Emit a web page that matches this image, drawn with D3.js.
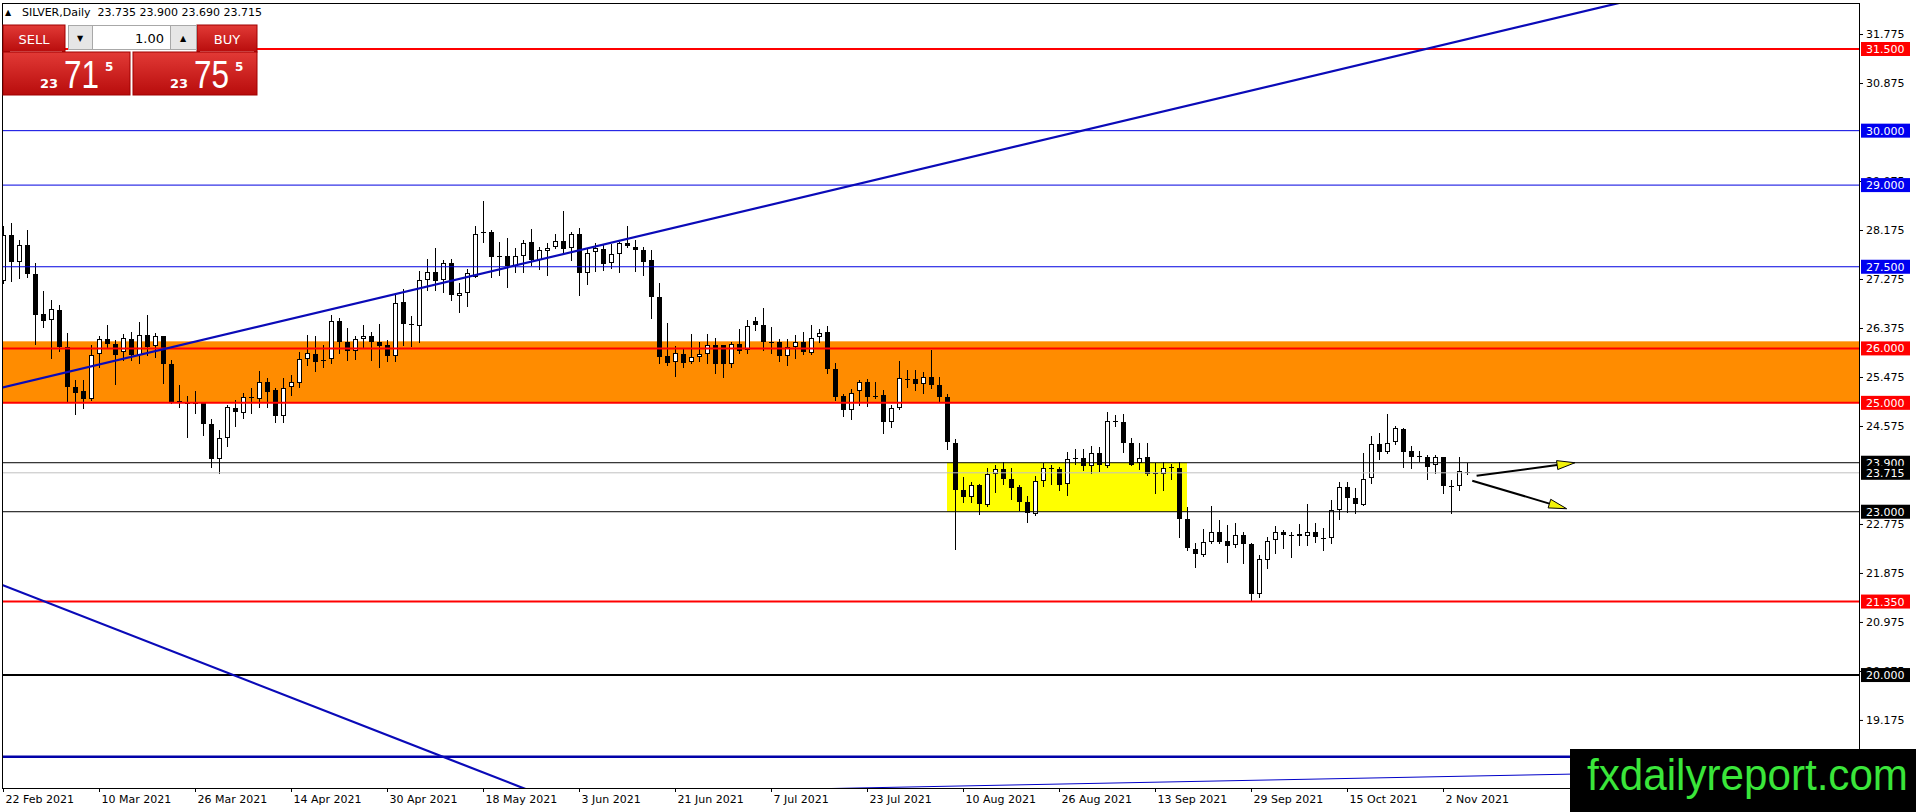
<!DOCTYPE html>
<html>
<head>
<meta charset="utf-8">
<script src="https://cdn.jsdelivr.net/npm/d3@7"></script>
<style>
html, body { margin: 0; padding: 0; background: #fff; overflow: hidden; }
svg { display: block; font-family: "DejaVu Sans", Tahoma, sans-serif; }
</style>
</head>
<body>
<script>
// ---- chart data ----
const symbol = 'SILVER', period = 'Daily';
const askPrice = 23.755;

const opens = [27.23,28.08,27.59,27.90,27.37,26.63,26.51,26.71,26.03,25.29,25.22,25.07,25.89,26.17,26.08,25.93,26.17,25.89,26.25,26.03,
  26.23,25.71,25.03,25.02,24.98,24.99,24.61,23.96,24.35,24.90,24.82,25.10,25.08,25.39,25.24,24.76,25.29,25.36,25.80,25.90,
  25.79,25.80,26.50,26.11,25.95,26.17,26.23,26.12,26.06,25.86,26.85,26.44,26.42,27.26,27.40,27.24,27.56,26.97,27.02,27.32,
  28.12,28.13,27.69,27.69,27.51,27.70,27.95,27.62,27.80,27.87,27.98,27.84,28.11,27.38,27.76,27.83,27.56,27.73,27.93,27.86,
  27.81,27.62,26.94,25.86,25.74,25.90,25.74,25.84,25.90,26.06,26.06,25.71,26.08,25.96,26.50,26.43,26.11,26.11,25.87,26.03,
  26.12,25.92,26.20,26.30,25.62,25.13,24.88,25.21,25.38,25.13,25.14,24.64,24.90,25.44,25.43,25.34,25.47,25.32,25.10,24.26,
  23.40,23.28,23.49,23.12,23.69,23.78,23.60,23.46,23.18,22.97,23.57,23.79,23.78,23.50,23.97,23.98,23.83,24.07,23.85,24.66,
  24.64,24.27,23.88,24.00,23.70,23.69,23.81,23.80,22.86,22.32,22.21,22.44,22.63,22.46,22.39,22.57,22.40,21.48,22.13,22.48,
  22.63,22.57,22.59,22.55,22.62,22.525,22.51,23.03,23.46,23.25,23.14,23.61,24.24,24.10,24.28,24.52,24.12,24.01,24.01,23.86,
  24.00,23.47,23.47,23.735];
const highs = [28.24,28.30,27.99,28.18,27.56,27.06,26.89,26.80,26.28,25.42,25.42,26.06,26.22,26.43,26.15,26.26,26.31,26.49,26.61,26.28,
  26.23,25.79,25.33,25.13,25.21,25.02,24.70,24.50,24.96,25.05,25.18,25.27,25.59,25.45,25.27,25.45,25.51,25.94,26.25,26.22,
  26.06,26.61,26.55,26.37,26.22,26.43,26.31,26.44,26.15,26.98,27.09,26.60,27.43,27.64,27.84,27.62,27.65,27.20,27.45,28.25,
  28.71,28.18,27.96,28.02,27.85,27.99,28.19,27.87,27.93,28.10,28.52,28.14,28.22,27.84,27.93,27.90,27.91,27.96,28.25,27.99,
  27.87,27.81,27.20,26.46,26.04,26.00,26.26,26.12,26.26,26.19,26.07,26.11,26.35,26.52,26.58,26.74,26.40,26.17,26.17,26.25,
  26.31,26.43,26.35,26.41,25.74,25.17,25.25,25.42,25.43,25.39,25.24,24.96,25.77,25.60,25.60,25.56,25.97,25.48,25.17,24.33,
  23.64,23.55,23.51,23.80,23.86,23.92,23.80,23.49,23.29,23.66,23.90,23.86,23.83,24.10,24.16,24.16,24.21,24.18,24.84,24.78,
  24.80,24.36,24.26,24.26,23.89,23.92,23.88,23.92,23.09,22.42,22.68,23.11,22.84,22.76,22.80,22.62,22.43,22.21,22.54,22.73,
  22.66,22.63,22.77,23.15,22.79,22.71,23.22,23.54,23.54,23.43,24.07,24.39,24.44,24.80,24.58,24.53,24.21,24.12,24.04,24.05,
  24.01,23.58,24.00,23.90];
const lows = [27.20,27.23,27.29,27.32,26.09,26.39,25.82,25.95,25.02,24.80,24.90,25.05,25.66,26.03,25.35,25.79,25.79,25.73,25.88,25.85,
  25.37,24.99,24.93,24.37,24.81,24.41,23.82,23.72,24.20,24.58,24.72,24.81,24.93,24.93,24.65,24.64,25.14,25.29,25.70,25.59,
  25.66,25.73,25.91,25.79,25.80,26.03,25.79,25.66,25.76,25.76,26.06,26.05,26.12,27.07,27.07,27.04,26.89,26.67,26.77,27.31,
  27.96,27.32,27.35,27.13,27.41,27.41,27.53,27.45,27.34,27.84,27.78,27.62,26.99,27.18,27.43,27.44,27.47,27.41,27.86,27.43,
  27.35,26.55,25.73,25.70,25.50,25.65,25.73,25.76,25.74,25.55,25.48,25.65,25.91,25.91,26.34,25.97,25.91,25.76,25.70,25.82,
  25.89,25.89,26.11,25.54,25.05,24.76,24.70,24.96,24.95,25.08,24.44,24.56,24.89,25.30,25.24,25.19,25.28,25.02,24.15,22.32,
  23.18,23.17,22.96,23.11,23.37,23.51,23.23,23.04,22.82,22.94,23.48,23.51,23.39,23.30,23.88,23.77,23.71,23.74,23.83,24.58,
  24.10,23.86,23.78,23.67,23.34,23.39,23.61,22.54,22.30,21.98,22.19,22.42,22.43,22.07,22.35,22.05,21.38,21.43,21.96,22.24,
  22.33,22.16,22.39,22.39,22.45,22.29,22.43,22.86,23.00,22.97,23.12,23.52,23.96,24.07,24.24,23.83,23.80,23.94,23.61,23.71,
  23.34,22.97,23.39,23.69];
const closes = [28.08,27.59,27.90,27.37,26.61,26.51,26.72,26.03,25.30,25.18,25.07,25.88,26.17,26.08,25.87,26.19,25.88,26.25,26.03,26.22,
  25.71,25.01,25.02,24.98,24.99,24.61,23.96,24.35,24.92,24.82,25.11,25.09,25.39,25.21,24.76,25.28,25.38,25.80,25.91,25.76,
  25.78,26.50,26.11,25.94,26.17,26.22,26.12,26.05,25.85,26.84,26.45,26.43,27.26,27.40,27.24,27.56,26.97,27.02,27.38,28.11,
  28.13,27.67,27.70,27.51,27.70,27.93,27.62,27.81,27.85,27.98,27.83,28.10,27.40,27.75,27.84,27.55,27.73,27.94,27.87,27.80,
  27.59,26.94,25.83,25.73,25.91,25.74,25.84,25.90,26.06,25.71,25.71,26.08,25.96,26.41,26.42,26.11,26.10,25.86,26.03,26.12,
  25.94,26.19,26.28,25.62,25.11,24.88,25.19,25.38,25.11,25.12,24.64,24.90,25.45,25.445,25.34,25.47,25.32,25.10,24.27,23.39,
  23.28,23.50,23.14,23.69,23.78,23.60,23.44,23.18,22.97,23.57,23.80,23.80,23.49,23.96,23.98,23.83,24.07,23.85,24.67,24.65,
  24.26,23.87,23.98,23.69,23.71,23.80,23.82,22.86,22.32,22.22,22.44,22.62,22.45,22.37,22.57,22.40,21.48,22.13,22.47,22.62,
  22.57,22.575,22.56,22.62,22.53,22.52,23.03,23.46,23.26,23.14,23.61,24.24,24.10,24.26,24.53,24.10,24.01,24.015,23.83,24.00,
  23.46,23.475,23.74,23.715];

// bar index of each date label on the time axis
const dateIdx = [0,12,24,36,48,60,72,84,96,108,120,132,144,156,168,180];
const dateLabels = ['22 Feb 2021','10 Mar 2021','26 Mar 2021','14 Apr 2021','30 Apr 2021','18 May 2021','3 Jun 2021','21 Jun 2021',
  '7 Jul 2021','23 Jul 2021','10 Aug 2021','26 Aug 2021','13 Sep 2021','29 Sep 2021','15 Oct 2021','2 Nov 2021'];
// price scale labels that show (the rest sit under price tags or the watermark)
const priceTicks = [31.775,30.875,29.075,28.175,27.275,26.375,25.475,24.575,22.775,21.875,20.975,20.075,19.175];

// horizontal levels drawn on the chart
const redLevels = [31.5, 26.0, 25.0, 21.35];
const blueLevels = [30.0, 29.0, 27.5];
const blackLevels = [23.9, 23.0];
const boldBlackLevels = [20.0];
const navyLevels = [18.5];

// zones: [price low, price high], bar range for the yellow box
const orangeZone = [25.0, 26.13];
const yellowZone = [23.0, 23.9];
const yellowBars = [118, 148];

// trend lines as two anchor points [bar, price]
const trendUp = [[0, 25.285], [200, 32.275]];
const trendDown = [[0, 21.65], [65, 17.925]];
const trendLow = [[105, 17.92], [196, 18.18]];

// arrows: start/end as [bar, price]
const arrowFrom = [[184.2, 23.66], [183.66, 23.57]];
const arrowTo = [[196.5, 23.90], [195.46, 23.055]];

// ---- drawing ----
const W = 1916, H = 812;
const L = 2, R = 1859, T = 3, B = 788;
const x = d3.scaleLinear().domain([0, 232]).range([3, 1859]);
const y = d3.scaleLinear().domain([17.925, 32.345]).range([788, 3]);

const svg = d3.select('body').append('svg').attr('width', W).attr('height', H);
svg.append('rect').attr('width', W).attr('height', H).attr('fill', '#fff');

const defs = svg.append('defs');
defs.append('clipPath').attr('id', 'clip').append('rect')
  .attr('x', L).attr('y', T).attr('width', R - L).attr('height', B - T);
const grad = defs.append('linearGradient').attr('id', 'redg').attr('x1', 0).attr('y1', 0).attr('x2', 0).attr('y2', 1);
grad.append('stop').attr('offset', '0%').attr('stop-color', '#e23a36');
grad.append('stop').attr('offset', '100%').attr('stop-color', '#b80c0c');

const plot = svg.append('g').attr('clip-path', 'url(#clip)');

// background zones
plot.append('rect')
  .attr('x', L).attr('width', R - L)
  .attr('y', y(orangeZone[1])).attr('height', y(orangeZone[0]) - y(orangeZone[1]))
  .attr('fill', '#ff8c00');
plot.append('rect')
  .attr('x', x(yellowBars[0])).attr('width', x(yellowBars[1]) - x(yellowBars[0]))
  .attr('y', y(yellowZone[1])).attr('height', y(yellowZone[0]) - y(yellowZone[1]))
  .attr('fill', '#ffff00');

// candles
const bars = opens.map((o, i) => ({ i, o, h: highs[i], l: lows[i], c: closes[i] }));
const cg = plot.append('g').attr('shape-rendering', 'crispEdges');
cg.selectAll('line').data(bars).join('line')
  .attr('x1', d => Math.round(x(d.i)) + 0.5).attr('x2', d => Math.round(x(d.i)) + 0.5)
  .attr('y1', d => Math.round(y(d.h))).attr('y2', d => Math.round(y(d.l)) + 1)
  .attr('stroke', '#000').attr('stroke-width', 1);
cg.selectAll('rect').data(bars).join('rect')
  .attr('x', d => Math.round(x(d.i)) - 1.5)
  .attr('width', 4)
  .attr('y', d => Math.round(y(Math.max(d.o, d.c))) + 0.5)
  .attr('height', d => Math.max(0.01, Math.round(Math.abs(y(d.o) - y(d.c))) - 1))
  .attr('fill', d => (d.c > d.o && Math.abs(y(d.o) - y(d.c)) >= 2) ? '#fff' : '#000')
  .attr('stroke', '#000').attr('stroke-width', 1);

// horizontal levels
function hLines(vals, color, width) {
  plot.append('g').selectAll('line').data(vals).join('line')
    .attr('x1', L).attr('x2', R)
    .attr('y1', d => y(d)).attr('y2', d => y(d))
    .attr('stroke', color).attr('stroke-width', width);
}
hLines(redLevels, '#ff0000', 2);
hLines(blueLevels, '#0000e0', 1);
hLines(blackLevels, '#000', 1);
hLines(boldBlackLevels, '#000', 2);
hLines(navyLevels, '#0000a8', 2.5);
const bid = closes[closes.length - 1];
hLines([bid], '#c0c0c0', 1);

// trend lines, drawn as rays through both anchors
function ray(pts, color, width) {
  const [[b0, p0], [b1, p1]] = pts;
  const k = (p1 - p0) / (b1 - b0);
  const bs = [-5, 240];
  plot.append('line')
    .attr('x1', x(bs[0])).attr('y1', y(p0 + k * (bs[0] - b0)))
    .attr('x2', x(bs[1])).attr('y2', y(p0 + k * (bs[1] - b0)))
    .attr('stroke', color).attr('stroke-width', width);
}
ray(trendUp, '#0a0ab8', 2.2);
ray(trendDown, '#0a0ab8', 2.2);
ray(trendLow, '#0000c8', 1);

// arrows
arrowFrom.forEach((f, k) => {
  const t = arrowTo[k];
  const x0 = x(f[0]), y0 = y(f[1]), x1 = x(t[0]), y1 = y(t[1]);
  const len = Math.hypot(x1 - x0, y1 - y0), ux = (x1 - x0) / len, uy = (y1 - y0) / len;
  const hl = 18, hw = 4.5;
  const bx = x1 - ux * hl, by = y1 - uy * hl;
  plot.append('line').attr('x1', x0).attr('y1', y0).attr('x2', bx).attr('y2', by)
    .attr('stroke', '#000').attr('stroke-width', 2);
  plot.append('path')
    .attr('d', d3.line()([[x1, y1], [bx - uy * hw, by + ux * hw], [bx + uy * hw, by - ux * hw]]) + 'Z')
    .attr('fill', '#f2f20a').attr('stroke', '#000').attr('stroke-width', 1);
});

// frame
svg.append('rect').attr('x', L + 0.5).attr('y', T + 0.5).attr('width', R - L).attr('height', B - T)
  .attr('fill', 'none').attr('stroke', '#000').attr('stroke-width', 1).attr('shape-rendering', 'crispEdges');

// price axis
const yAxis = svg.append('g').attr('transform', `translate(${R},0)`)
  .call(d3.axisRight(y).tickValues(priceTicks).tickSize(4).tickPadding(3).tickFormat(d3.format('.3f')));
yAxis.select('.domain').remove();
yAxis.selectAll('text').attr('font-size', 11).attr('font-family', '"DejaVu Sans", Tahoma, sans-serif').attr('fill', '#000');
yAxis.selectAll('line').attr('stroke', '#000');

// time axis
const xAxis = svg.append('g').attr('transform', `translate(0,${B})`)
  .call(d3.axisBottom(x).tickValues(dateIdx).tickSize(4).tickPadding(3).tickFormat((d, k) => dateLabels[k]));
xAxis.select('.domain').remove();
xAxis.selectAll('text').attr('font-size', 11).attr('font-family', '"DejaVu Sans", Tahoma, sans-serif')
  .attr('text-anchor', 'start').attr('dx', 2).attr('fill', '#000');
xAxis.selectAll('line').attr('stroke', '#000');

// price tags on the axis
function tags(vals, color) {
  const g = svg.append('g').selectAll('g').data(vals).join('g');
  g.append('rect').attr('x', R + 2).attr('width', 49).attr('y', d => y(d) - 7).attr('height', 14).attr('fill', color);
  g.append('text').attr('x', R + 7).attr('y', d => y(d) + 4).attr('fill', '#fff').attr('font-size', 11)
    .text(d => d3.format('.3f')(d));
}
tags(redLevels, '#ff0000');
tags(blueLevels, '#0000f0');
tags(boldBlackLevels, '#000');
tags(blackLevels, '#000');
tags([bid], '#000');

// header
const last = bars[bars.length - 1];
svg.append('text').attr('x', 5).attr('y', 15).attr('font-size', 8).attr('fill', '#000').text('\u25B2');
svg.append('text').attr('x', 22).attr('y', 16).attr('font-size', 11).attr('fill', '#000')
  .attr('xml:space', 'preserve')
  .text(`${symbol},${period}  ${[last.o, last.h, last.l, last.c].map(d3.format('.3f')).join(' ')}`);

// one-click trading panel
const panel = svg.append('g');
panel.append('rect').attr('x', 3).attr('y', 25).attr('width', 62).attr('height', 27).attr('fill', 'url(#redg)').attr('stroke', '#a00000');
panel.append('rect').attr('x', 197).attr('y', 25).attr('width', 60).attr('height', 27).attr('fill', 'url(#redg)').attr('stroke', '#a00000');
panel.append('line').attr('x1', 10).attr('x2', 62).attr('y1', 51.5).attr('y2', 51.5).attr('stroke', '#f08080');
panel.append('line').attr('x1', 200).attr('x2', 254).attr('y1', 51.5).attr('y2', 51.5).attr('stroke', '#f08080');
panel.append('text').attr('x', 34).attr('y', 44).attr('text-anchor', 'middle').attr('fill', '#fff').attr('font-size', 13).text('SELL');
panel.append('text').attr('x', 227).attr('y', 44).attr('text-anchor', 'middle').attr('fill', '#fff').attr('font-size', 13).text('BUY');
panel.append('rect').attr('x', 68.5).attr('y', 25.5).attr('width', 24).attr('height', 24).attr('fill', '#e6e6e6').attr('stroke', '#a8a8a8');
panel.append('rect').attr('x', 92.5).attr('y', 25.5).attr('width', 78).attr('height', 24).attr('fill', '#fff').attr('stroke', '#a8a8a8');
panel.append('rect').attr('x', 170.5).attr('y', 25.5).attr('width', 26).attr('height', 24).attr('fill', '#e6e6e6').attr('stroke', '#a8a8a8');
panel.append('text').attr('x', 80).attr('y', 41).attr('text-anchor', 'middle').attr('font-size', 8).text('\u25BC');
panel.append('text').attr('x', 183).attr('y', 41).attr('text-anchor', 'middle').attr('font-size', 8).text('\u25B2');
panel.append('text').attr('x', 164).attr('y', 43).attr('text-anchor', 'end').attr('font-size', 13).attr('fill', '#000').text('1.00');

function quote(px, x0, w) {
  const s = d3.format('.3f')(px);
  const big = s.slice(0, 2), mid = s.slice(3, 5), pip = s.slice(5);
  panel.append('rect').attr('x', x0).attr('y', 52).attr('width', w).attr('height', 43).attr('fill', 'url(#redg)').attr('stroke', '#a00000');
  panel.append('text').attr('x', x0 + 37).attr('y', 88).attr('font-size', 13).attr('font-weight', 'bold').attr('fill', '#fff').text(big);
  panel.append('text').attr('x', x0 + 61).attr('y', 88).attr('font-size', 38).attr('fill', '#fff')
    .attr('font-family', '"Liberation Sans", Arial, sans-serif')
    .attr('textLength', 35).attr('lengthAdjust', 'spacingAndGlyphs').text(mid);
  panel.append('text').attr('x', x0 + 102).attr('y', 71).attr('font-size', 12).attr('font-weight', 'bold').attr('fill', '#fff').text(pip);
}
quote(bid, 3, 127);
quote(askPrice, 133, 124);

// watermark
svg.append('rect').attr('x', 1570).attr('y', 749).attr('width', W - 1570).attr('height', H - 749).attr('fill', '#000');
svg.append('text').attr('x', 1587).attr('y', 790).attr('font-size', 44)
  .attr('font-family', '"Liberation Sans", Arial, sans-serif').attr('fill', '#3ae63a')
  .attr('textLength', 321).attr('lengthAdjust', 'spacingAndGlyphs').text('fxdailyreport.com');
</script>
</body>
</html>
